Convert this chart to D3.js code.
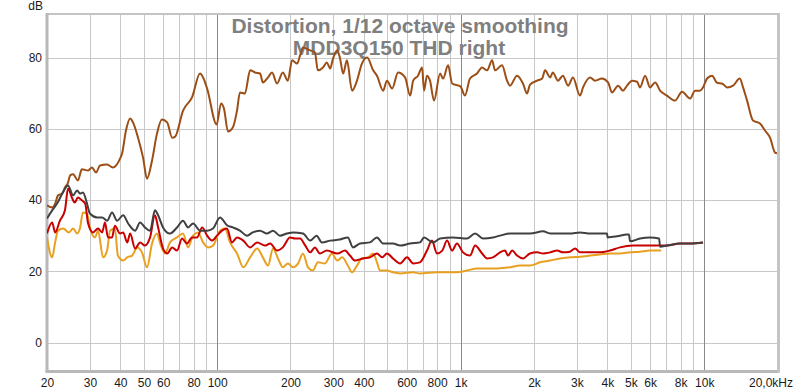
<!DOCTYPE html>
<meta charset="utf-8">
<style>
body { margin: 0; background: #fff; }
svg text { font-family: Arial, "Liberation Sans", sans-serif; }
.grid line { stroke: #c8c8c8; stroke-width: 1; }
.grid line.decade { stroke: #8a8a8a; }
.axis text { font-size: 12px; fill: #1a1a1a; }
.title { font-size: 21px; font-weight: bold; fill: #7f7f7f; }
.series { fill: none; stroke-width: 2; stroke-linejoin: round; }
</style>
<svg width="800" height="392"></svg>
<script src="https://d3js.org/d3.v7.min.js"></script>
<script>

// brown (fundamental / level) trace
var brownFreq = [20,21,21.6,22.2,23.1,23.7,24.4,24.9,25.6,26.8,27.8,29.5,30.6,31.8,33,35.3,37.3,39.9,40.7,42.2,43.9,45.1,47.3,49.6,51.5,54,56.6,59.3,62.3,65.3,67.2,72.4,78.8,85,87.5,90.9,99.5,103.7,106.6,110.8,116,120.6,124,130,136.5,143,150,154,161.7,168,176,186,195,203,213,219,225,241,252,259,272,282,291,299,311,319,329,341,358,375,393,413,437,453,480,498,523,553,591,620,638,668,694,707,727,748,777,823,846,888,922,997,1041,1092,1167,1224,1283,1346,1383,1478,1550,1594,1703,1802,1872,1926,2060,2160,2220,2330,2390,2510,2630,2760,2890,3090,3180,3400,3560,3800,4030,4180,4430,4640,4820,5050,5300,5450,5720,5990,6290,6590,7030,7590,8110,8750,9170,9610,9890,10270,10770,11290,11840,12420,13140,14000,14440,15000,15870,16950,17770,18630,19540,19900];
var brownDb = [38.5,37.9,39,41.3,41.8,43.5,44.9,46.9,47.2,45.5,48.6,48.3,49.1,47.7,49.7,50,49.1,51.6,53.1,59.5,62.9,61.8,57.5,51.9,46,51.1,58.7,62.6,61.8,57.5,57.8,65.1,68.8,75.5,74.4,71.3,61.2,67.1,65.7,59.2,60.4,65.1,70.2,69.9,76.4,75.8,75.5,73,74.4,75.8,72.7,75.8,73.5,79.2,78.3,80.6,82.8,82,81.4,76.4,77.2,78.6,76.9,79.7,82,80,75.5,79.2,70.7,73.5,78.3,80,76.4,74.9,70.7,73.5,71.3,75.8,74.4,69.3,73.5,74.9,77.2,70.7,74.9,73.5,67.9,75.5,74.1,77.8,72.7,71.9,69.3,74.1,75.5,77.2,76.4,79.2,76.4,77.8,73.5,72.1,74.9,72.7,69.9,72.4,73.5,74.1,76.4,74.4,75.8,73.5,74.9,72.1,74.4,69.3,71.6,74.4,73.5,74.1,73,70.2,72.1,70.7,72.1,73.5,73.2,71.6,74.9,71.6,73,70.7,69.3,67.9,70.4,68.5,70.7,70.7,71.6,74.1,74.9,72.9,72.7,71.6,72.1,74.1,71.6,67.9,62.3,61.5,59.5,57.5,53.3,53.1];

// dark grey trace
var greyFreq = [20,21,22,23.1,24.4,25.6,26.6,27.3,28.1,29.2,30,32.1,33.7,35.3,37,38.8,41.1,43.1,46,48.2,50.5,53,55.5,57.2,59.9,64,68.4,72.4,75.9,79.6,85,90.9,96.1,102.7,109.7,116,124,132.5,140,150,160,169.5,181,193.5,205,225,241,256,269,291,319,344,361,386,424,453,480,527,564,620,680,707,770,823,930,1061,1146,1236,1358,1450,1594,1750,1926,2180,2330,2560,2810,3090,3400,3730,3990,4010,4390,4820,4910,4960,5450,5990,6530,6590,7030,7960,8750,9890];
var greyDb = [34.8,37.1,39,41.8,44.1,41.3,42.7,41.8,42.1,39,36.2,35.1,35.1,34.2,36.5,34.2,35.7,33.4,31.4,33.7,32.3,31.4,37.1,35.7,32.3,30.6,32.3,34.2,32.3,33.4,31.4,31.4,32,35.1,32.9,32.3,31.4,30,30.9,31.4,30.6,31.4,30,30.6,30.9,30.6,28.6,30,28.1,28.6,28.9,29.5,26.7,27.8,28.1,29.5,27.8,27.8,27.2,27.8,28.1,29.5,28.1,29.2,29.5,29.2,30.6,29.2,29.5,30,30.6,30.6,30.6,31.2,30.6,30.6,30.6,30.9,30.6,30.6,30.6,29.5,29.8,30.3,30.3,28.4,29.2,29.5,29.2,26.9,27.2,27.8,27.8,28.1];

// red trace
var redFreq = [20,21,21.6,22.6,23.7,24.4,25.3,26,26.8,27.8,28.7,29.5,30.9,32.4,33.7,34.6,35.6,37,38,39.9,41.1,42.7,43.9,46,48.2,50.5,53,55.5,57.2,59.9,62.3,65.3,68.4,71.7,75.1,78.8,82.7,86.7,90.9,95.2,99.8,104.6,109.7,115,120.6,128,136.5,146,157,165,176,186,199,209,219,230,241,252,264,282,311,335,351,368,397,424,453,476,498,527,564,602,638,680,727,762,799,840,879,922,965,1022,1092,1146,1224,1283,1358,1450,1520,1565,1627,1703,1802,1926,2060,2180,2330,2490,2630,2810,2950,3090,3400,3730,4100,4510,5100,5830,6530,7030,7960,8750,9890];
var redDb = [30.6,33.7,30.9,34.2,37.1,43.2,40.7,39.3,40.7,39.9,39,33.4,30.9,32,30.9,33.7,29.5,29.5,32.8,30.6,30.9,28.1,30.6,26.4,28.1,27.2,29.5,35.7,32.3,26.4,25,26.7,25.8,29.2,27.8,29.5,29.5,32.3,30,28.6,30,31.4,32,28.1,29.5,28.6,26.7,28.1,27.2,27.8,25.8,26.7,29.5,29.2,29.2,27.2,25.3,26.7,25,25.8,25,25.8,24.4,23,23.6,23.9,25,23.9,25,23.6,22.2,23.9,22.2,22.5,25.8,28.6,25,25.8,28.6,25.8,27.8,25.3,24.4,27.2,25,23.6,23.9,25.3,25.8,24.4,25.8,24.4,23.6,25,25.3,25,25.3,25.8,25.3,25.5,26.4,25.3,25.3,25.3,25.8,26.7,27.2,27.2,27.2,27.2,27.8,27.8,28.1];

// orange trace
var orangeFreq = [20,21,21.6,22.2,23.3,24.6,25.6,26.6,27.3,28.1,29.2,30,31.5,32.4,34,35.3,36.3,38,39.1,41.1,42.7,44.7,47,49.1,51.5,54,56.6,58.3,61.1,64,68.4,72.4,75.9,79.6,83.5,87.5,91.7,96.1,102.7,107.7,112.9,120.6,128,136.5,146,154,161.7,169.5,177.7,186,195,205,215,225,236,247,259,277,296,311,326,344,358,375,393,416,437,453,466,498,527,564,638,680,799,965,1061,1167,1407,1594,1750,1926,2120,2330,2560,2810,3090,3400,3730,4100,4510,4960,5450,5990,6660];
var orangeDb = [29.5,23.9,28.1,31.4,32,30.9,32,30.6,32,36.5,36.2,32.3,29.5,31.4,23.9,25.8,31.4,32,24.4,23,23.9,24.4,26.7,25.3,21.1,27.8,30.6,27.8,25,28.1,29.5,30.6,26.7,30,30.9,28.1,26.7,27.2,31.4,32,28.1,25,21.1,23.9,26.4,23.9,21.6,26.4,23.6,21.1,22.2,21.1,22.2,25,21.1,20.2,22.5,22.2,25,23,23.9,21.6,19.7,21.6,23.6,23.9,25,22.5,20.2,20.2,19.7,19.4,19.7,19.4,19.7,19.7,20.2,20.8,20.8,21.1,21.6,21.6,22.5,23,23.6,23.9,24.1,24.4,24.7,25,25,25.3,25.5,25.8,25.8];

var gridFreqs = [30,40,50,60,70,80,90,100,200,300,400,500,600,700,800,900,1000,2000,3000,4000,5000,6000,7000,8000,9000,10000];
var decades = [100,1000,10000];
var xTicks = [20,30,40,50,60,80,100,200,300,400,600,800,1000,2000,3000,4000,5000,6000,8000,10000];
var xTickLabels = ["20","30","40","50","60","80","100","200","300","400","600","800","1k","2k","3k","4k","5k","6k","8k","10k"];
var yTicks = [0,20,40,60,80];

var svg = d3.select("svg");
var plotLeft = 47, plotRight = 778, plotTop = 14, plotBottom = 371;

var x = d3.scaleLog().domain([20, 20000]).range([plotLeft, 777.5]);
var y = d3.scaleLinear().domain([0, 80]).range([342.5, 57.5]);

svg.append("defs").append("clipPath").attr("id", "plotclip")
  .append("rect").attr("x", plotLeft).attr("y", plotTop)
  .attr("width", plotRight - plotLeft).attr("height", plotBottom - plotTop);

var grid = svg.append("g").attr("class", "grid");
grid.selectAll("line.h").data(yTicks).enter().append("line")
  .attr("class", "h")
  .attr("x1", plotLeft).attr("x2", plotRight)
  .attr("y1", function (d) { return Math.round(y(d)) + 0.5; })
  .attr("y2", function (d) { return Math.round(y(d)) + 0.5; });
grid.selectAll("line.v").data(gridFreqs).enter().append("line")
  .attr("class", function (d) { return decades.indexOf(d) >= 0 ? "v decade" : "v"; })
  .attr("y1", plotTop).attr("y2", plotBottom)
  .attr("x1", function (d) { return Math.round(x(d)) + 0.5; })
  .attr("x2", function (d) { return Math.round(x(d)) + 0.5; });

// frame
svg.append("rect").attr("x", plotLeft).attr("y", plotTop - 1).attr("width", plotRight - plotLeft + 1).attr("height", 2)
  .attr("fill", "#c4c4c4");
svg.append("rect").attr("x", plotLeft - 1.5).attr("y", plotTop - 1).attr("width", 3).attr("height", plotBottom - plotTop + 2)
  .attr("fill", "#b8b8b8");
svg.append("rect").attr("x", plotLeft - 1.5).attr("y", plotBottom - 1).attr("width", plotRight - plotLeft + 3).attr("height", 3)
  .attr("fill", "#b8b8b8");
svg.append("rect").attr("x", plotRight - 1).attr("y", plotTop - 1).attr("width", 3).attr("height", plotBottom - plotTop + 2)
  .attr("fill", "#c4c4c4");

// title
svg.append("text").attr("class", "title").attr("x", 400).attr("y", 33)
  .attr("text-anchor", "middle").text("Distortion, 1/12 octave smoothing");
svg.append("text").attr("class", "title").attr("x", 399).attr("y", 55)
  .attr("text-anchor", "middle").text("MDD3Q150 THD right");

// series
var line = d3.line()
  .x(function (d) { return x(d[0]); })
  .y(function (d) { return y(d[1]); })
  .curve(d3.curveMonotoneX);

function pairs(f, v) { return f.map(function (d, i) { return [d, v[i]]; }); }

var series = [
  { name: "brown", color: "#9b4f17", data: pairs(brownFreq, brownDb) },
  { name: "orange", color: "#e8a020", data: pairs(orangeFreq, orangeDb) },
  { name: "red", color: "#c80000", data: pairs(redFreq, redDb) },
  { name: "grey", color: "#404040", data: pairs(greyFreq, greyDb) }
];

svg.append("g").attr("clip-path", "url(#plotclip)")
  .selectAll("path").data(series).enter().append("path")
  .attr("class", "series")
  .attr("stroke", function (d) { return d.color; })
  .attr("d", function (d) { return line(d.data); });

// axes
var xAxis = d3.axisBottom(x).tickValues(xTicks)
  .tickFormat(function (d, i) { return xTickLabels[i]; }).tickSize(0).tickPadding(0);
var gx = svg.append("g").attr("class", "axis").attr("transform", "translate(0,378)").call(xAxis);
gx.select(".domain").remove();
gx.selectAll("text").attr("dy", "0.71em");
gx.append("text").attr("x", 793).attr("y", 0).attr("dy", "0.71em")
  .attr("text-anchor", "end").attr("fill", "#1a1a1a").text("20,0kHz");

var yAxis = d3.axisLeft(y).tickValues(yTicks).tickSize(0).tickPadding(0);
var gy = svg.append("g").attr("class", "axis").attr("transform", "translate(42,0)").call(yAxis);
gy.select(".domain").remove();
gy.append("text").attr("x", 1).attr("y", 10).attr("text-anchor", "end").attr("fill", "#1a1a1a").text("dB");

</script>
